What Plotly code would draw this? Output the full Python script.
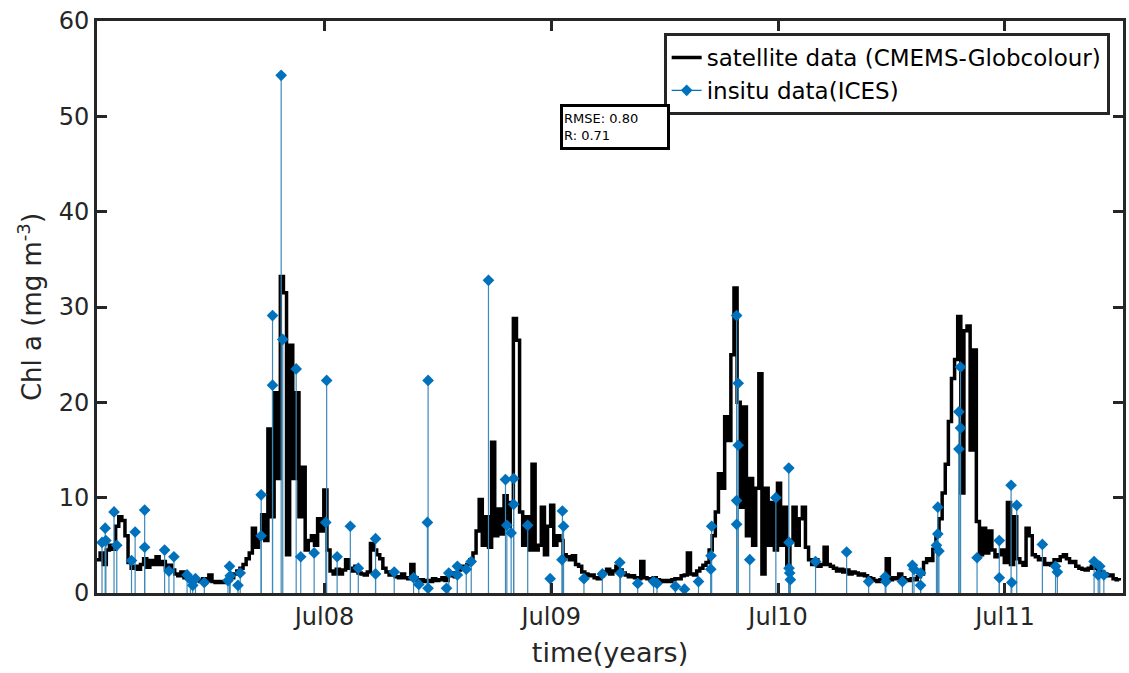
import pandas as pd
import plotly.graph_objects as go

# ---------------- data ----------------
sat_start = "2007-07-01"  # satellite series sampled every 5 days
sat_chl = [
    3.5, 4.2, 3.0, 4.5, 5.0, 4.6, 7.0, 8.0, 7.6, 6.0,
    3.2, 2.6, 2.8, 2.5, 3.0, 3.6, 2.7, 3.4, 3.0, 3.8,
    3.0, 3.3, 2.6, 2.9, 2.4, 2.0, 1.8, 2.2, 1.6, 1.5,
    1.4, 1.6, 1.3, 1.2, 1.5, 1.3, 1.9, 1.2, 1.1, 1.2,
    1.1, 1.2, 1.4, 1.6, 2.0, 2.3, 2.6, 3.0, 3.6, 4.2,
    6.8, 4.8, 6.0, 8.2, 5.5, 17.2, 8.0, 21.0, 12.0, 33.2,
    31.5, 4.0, 26.0, 12.0, 21.0, 8.0, 13.2, 4.5, 5.5, 6.0,
    5.0, 7.8, 6.5, 10.8, 4.5, 2.3, 2.0, 2.5, 2.0, 2.4,
    3.5, 2.6, 2.3, 2.8, 2.1, 2.0, 1.9, 2.2, 5.2, 4.5,
    4.0, 3.6, 2.6, 2.2, 1.9, 2.1, 1.7, 1.6, 2.0, 1.6,
    1.5, 3.0, 1.6, 1.3, 1.4, 1.2, 1.3, 1.2, 1.5, 1.3,
    1.4, 1.6, 1.3, 1.8, 2.1, 1.7, 2.4, 2.8, 2.5, 3.0,
    3.5, 4.2, 6.5, 9.8, 5.0, 8.0, 4.8, 15.8, 6.0, 8.8,
    6.2, 10.2, 7.0, 9.5, 28.8, 26.5, 8.5, 5.0, 8.0, 4.5,
    13.5, 4.5, 5.0, 9.0, 4.0, 7.0, 9.2, 5.0, 6.0, 5.5,
    4.0, 3.8, 3.5, 3.9, 3.0, 2.8, 2.2, 2.0, 1.8, 1.9,
    1.6, 1.5, 1.8, 2.2, 2.5, 2.0, 2.3, 2.8, 2.4, 2.1,
    1.9, 1.7, 1.8, 1.6, 1.5, 3.3, 1.6, 1.5, 1.4, 1.6,
    1.4, 1.3, 1.2, 1.3, 1.2, 1.4, 1.5, 1.5, 1.8, 1.9,
    4.2, 2.0, 1.9, 2.3, 2.6, 2.9, 3.2, 4.5, 6.0, 8.5,
    12.5, 11.0, 18.5, 16.0, 25.0, 32.0, 20.0, 9.0, 19.5, 6.0,
    12.0, 5.0, 11.0, 23.0, 2.0, 11.0, 5.0, 9.5, 4.5, 11.5,
    5.0, 9.0, 3.0, 5.5, 9.0, 5.0, 7.8, 9.0, 4.8, 3.5,
    3.0, 3.5, 2.8, 3.0, 4.8, 3.0, 2.8, 2.6, 2.3, 2.5,
    2.2, 2.4, 2.0, 2.2, 2.1, 1.9, 2.0, 1.8, 1.6, 1.5,
    1.3, 1.2, 1.4, 1.3, 3.6, 1.4, 1.6, 1.5, 2.0, 1.6,
    1.4, 1.3, 1.5, 1.4, 1.7, 2.0, 3.2, 3.6, 3.4, 4.6,
    6.0, 7.8, 10.5, 13.5, 18.0, 22.5, 24.5, 29.0, 10.5, 27.5,
    28.0, 15.0, 25.5, 7.5, 4.0, 6.8, 4.2, 6.5, 4.5, 3.8,
    4.0, 4.5, 3.2, 9.5, 3.0, 8.0, 3.6, 3.2, 2.9, 6.8,
    6.0, 4.0, 3.8, 3.5, 3.6, 3.0, 3.1, 2.9, 3.5, 3.4,
    3.8, 4.0, 3.6, 3.2, 3.3, 2.8, 2.6, 2.5, 2.4, 2.6,
    2.8, 2.6, 2.3, 2.2, 2.0, 1.8, 1.9, 1.5, 1.4, 1.3,
]

# in-situ samples: time in decimal years, chl a
insitu_year = [
    2007.518, 2007.532, 2007.535, 2007.571, 2007.583, 2007.648, 2007.664, 2007.706, 2007.706, 2007.794,
    2007.813, 2007.835, 2007.893, 2007.908, 2007.918, 2007.930, 2007.969, 2008.073, 2008.080, 2008.083,
    2008.117, 2008.127, 2008.219, 2008.219, 2008.269, 2008.269, 2008.307, 2008.314, 2008.373, 2008.393,
    2008.452, 2008.507, 2008.503, 2008.553, 2008.611, 2008.646, 2008.722, 2008.722, 2008.804, 2008.889,
    2008.912, 2008.953, 2008.950, 2008.953, 2009.034, 2009.044, 2009.082, 2009.082, 2009.121, 2009.143,
    2009.219, 2009.294, 2009.300, 2009.319, 2009.330, 2009.330, 2009.392, 2009.491, 2009.545, 2009.550,
    2009.543, 2009.640, 2009.721, 2009.798, 2009.801, 2009.877, 2009.947, 2009.962, 2010.043, 2010.083,
    2010.145, 2010.200, 2010.203, 2010.199, 2010.313, 2010.320, 2010.320, 2010.313, 2010.313, 2010.371,
    2010.486, 2010.543, 2010.544, 2010.544, 2010.547, 2010.550, 2010.661, 2010.798, 2010.895, 2010.968,
    2010.971, 2011.044, 2011.088, 2011.095, 2011.124, 2011.124, 2011.200, 2011.200, 2011.194, 2011.205,
    2011.300, 2011.293, 2011.300, 2011.293, 2011.373, 2011.471, 2011.471, 2011.523, 2011.548, 2011.526,
    2011.661, 2011.719, 2011.727, 2011.889, 2011.914, 2011.907, 2011.932,
]
insitu_chl = [
    5.3, 6.8, 5.5, 8.5, 5.0, 3.4, 6.4, 8.7, 4.8, 4.5,
    2.3, 3.8, 1.9, 1.4, 0.8, 1.5, 1.1, 1.3, 2.8, 1.8,
    0.8, 2.1, 10.3, 6.0, 29.1, 21.8, 54.3, 26.6, 23.5, 3.8,
    4.2, 22.3, 7.4, 3.8, 7.0, 2.6, 5.7, 2.0, 2.2, 1.6,
    0.9, 22.3, 7.4, 0.5, 0.5, 2.1, 2.8, 1.9, 2.5, 3.3,
    32.8, 11.9, 7.1, 6.3, 12.0, 9.3, 7.1, 1.5, 8.6, 7.0,
    3.5, 1.5, 2.0, 3.2, 2.1, 1.0, 1.2, 1.0, 0.7, 0.4,
    1.2, 3.9, 7.0, 2.5, 29.1, 22.0, 15.5, 9.7, 7.2, 3.5,
    10.0, 13.1, 5.3, 2.6, 2.1, 1.4, 3.3, 4.3, 1.2, 1.7,
    1.2, 1.2, 2.9, 2.5, 2.1, 0.8, 9.0, 6.2, 5.0, 4.4,
    23.7, 19.0, 17.3, 15.1, 3.7, 5.5, 1.6, 11.3, 9.2, 1.1,
    5.1, 2.8, 2.2, 3.3, 2.8, 1.9, 1.9,
]

tick_dates = ["2008-07-01", "2009-07-01", "2010-07-01", "2011-07-01"]
tick_labels = ["Jul08", "Jul09", "Jul10", "Jul11"]
rmse_text = "RMSE: 0.80<br>R: 0.71"

# ---------------- prep ----------------
sat_t = pd.date_range(sat_start, periods=len(sat_chl), freq="5D")


def dec_year_to_ts(y):
    yr = int(y)
    start = pd.Timestamp(year=yr, month=1, day=1)
    end = pd.Timestamp(year=yr + 1, month=1, day=1)
    return start + (end - start) * (y - yr)


ins_t = [dec_year_to_ts(y) for y in insitu_year]

stem_x, stem_y = [], []
for t, v in zip(ins_t, insitu_chl):
    stem_x += [t, t, None]
    stem_y += [0, v, None]

BLUE = "#0072BD"
AX = "#262626"
FONT = "DejaVu Sans"

fig = go.Figure()
fig.add_trace(go.Scatter(
    x=sat_t, y=sat_chl, mode="lines",
    line=dict(color="black", width=3.5, shape="hv"),
    name="satellite data (CMEMS-Globcolour)",
))
fig.add_trace(go.Scatter(
    x=stem_x, y=stem_y, mode="lines",
    line=dict(color="#3f89b8", width=1.2),
    showlegend=False, hoverinfo="skip",
))
fig.add_trace(go.Scatter(
    x=ins_t, y=insitu_chl, mode="markers",
    marker=dict(symbol="diamond", size=9, color=BLUE),
    showlegend=False,
))
fig.add_trace(go.Scatter(
    x=[None], y=[None], mode="lines+markers",
    line=dict(color=BLUE, width=1.2),
    marker=dict(symbol="diamond", size=9, color=BLUE),
    name="insitu data(ICES)",
))

axis_common = dict(
    showline=True, linewidth=3, linecolor=AX, mirror="allticks",
    ticks="inside", ticklen=10, tickwidth=3, tickcolor=AX,
    showgrid=False, zeroline=False,
    tickfont=dict(family=FONT, size=24, color=AX),
)

fig.update_layout(
    width=1129, height=673,
    margin=dict(l=97, r=3, t=21, b=80),
    paper_bgcolor="white", plot_bgcolor="white",
    font=dict(family=FONT, color=AX),
    xaxis=dict(
        **axis_common,
        type="date",
        range=["2007-07-01", "2012-01-07"],
        tickvals=tick_dates, ticktext=tick_labels,
        title=dict(text="time(years)", font=dict(family=FONT, size=27, color=AX), standoff=14),
    ),
    yaxis=dict(
        **axis_common,
        range=[0, 60], tickvals=[0, 10, 20, 30, 40, 50, 60],
        title=dict(text="Chl a (mg m<sup>-3</sup>)", font=dict(family=FONT, size=26, color=AX), standoff=10),
    ),
    legend=dict(
        x=0.987, y=0.979, xanchor="right", yanchor="top",
        bgcolor="white", bordercolor=AX, borderwidth=3,
        font=dict(family=FONT, size=23, color="black"),
        tracegroupgap=0,
    ),
    annotations=[dict(
        xref="paper", yref="paper", x=0.505, y=0.814,
        xanchor="center", yanchor="middle",
        text=rmse_text, align="left", showarrow=False,
        font=dict(family=FONT, size=13, color="black"),
        bgcolor="white", bordercolor="black", borderwidth=3,
        width=102, height=38,
    )],
    showlegend=True,
)

fig.write_html("out.html")
